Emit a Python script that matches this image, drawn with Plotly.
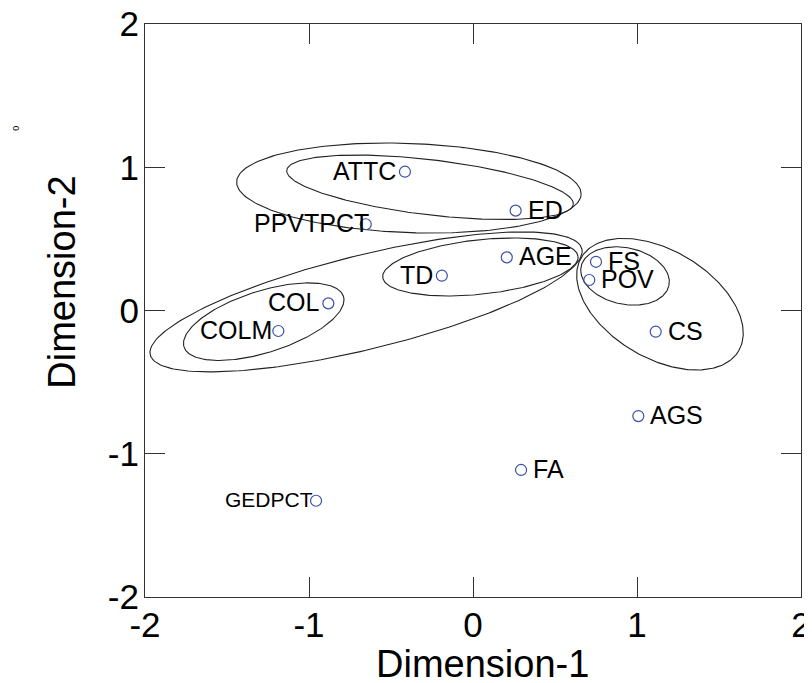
import numpy as np
import plotly.graph_objects as go

# ---- data ----
labels = ["ATTC", "ED", "PPVTPCT", "AGE", "TD", "FS", "POV", "CS",
          "COL", "COLM", "AGS", "FA", "GEDPCT"]
dim1 = [-0.415, 0.260, -0.654, 0.206, -0.190, 0.750, 0.709, 1.114,
        -0.882, -1.187, 1.008, 0.293, -0.957]
dim2 = [0.969, 0.697, 0.602, 0.371, 0.243, 0.340, 0.213, -0.148,
        0.050, -0.143, -0.737, -1.113, -1.328]
label_side = ["left", "right", "left", "right", "left", "right", "right", "right",
              "left", "left", "right", "right", "left"]

# cluster ellipses: centre (dim1, dim2), semi-axes (dim1 units), tilt (deg)
ell_cx = [-0.391, -0.262, 0.045, -0.652, -1.276, 0.927, 1.140]
ell_cy = [0.855, 0.860, 0.304, 0.060, -0.078, 0.241, 0.044]
ell_a = [1.051, 0.880, 0.599, 1.355, 0.510, 0.274, 0.558]
ell_b = [0.272, 0.168, 0.166, 0.287, 0.188, 0.172, 0.328]
ell_ang = [-2.1, -6.8, 6.1, 13.8, 17.6, -12.4, -30.8]

x_ticks = [-2, -1, 0, 1, 2]
y_ticks = [-2, -1, 0, 1, 2]

# ---- figure ----
W, H = 812, 683
PAGE_OFF = 8                      # default page body margin
PL, PT, PW, PH = 145, 24, 656, 573  # wanted plot box on screen
ML, MT = PL - PAGE_OFF, PT - PAGE_OFF
MR = W - ML - PW
MB = H - MT - PH
aspect = (PW / 4.0) / (PH / 4.0)  # px per x-unit / px per y-unit


def px(sx):
    return (sx - PL) / PW


def py(sy):
    return (PT + PH - sy) / PH


FONT = "Liberation Sans, Arial"
fig = go.Figure()

t = np.linspace(0, 2 * np.pi, 241)
for cx, cy, a, b, ang in zip(ell_cx, ell_cy, ell_a, ell_b, ell_ang):
    th = np.deg2rad(ang)
    du = a * np.cos(t) * np.cos(th) - b * np.sin(t) * np.sin(th)
    dv = a * np.cos(t) * np.sin(th) + b * np.sin(t) * np.cos(th)
    fig.add_trace(go.Scatter(x=cx + du, y=cy + dv * aspect, mode="lines",
                             line=dict(color="#222222", width=1.1),
                             hoverinfo="skip", showlegend=False))

fig.add_trace(go.Scatter(x=dim1, y=dim2, mode="markers",
                         marker=dict(symbol="circle-open", size=11,
                                     color="#3a4fa8", line=dict(width=1.2)),
                         text=labels, showlegend=False))

annotations = []
for name, x, y, side in zip(labels, dim1, dim2, label_side):
    size = 21 if name == "GEDPCT" else 25
    if side == "right":
        annotations.append(dict(x=x, y=y, xref="x", yref="y", text=name,
                                showarrow=False, xanchor="left", yanchor="middle",
                                xshift=10, yshift=1,
                                font=dict(size=size, color="black", family=FONT)))
    else:
        shift = {"ATTC": -7, "PPVTPCT": 5, "TD": -7, "COL": -6,
                 "COLM": -4, "GEDPCT": -1}.get(name, -7)
        annotations.append(dict(x=x, y=y, xref="x", yref="y", text=name,
                                showarrow=False, xanchor="right", yanchor="middle",
                                xshift=shift, yshift=1,
                                font=dict(size=size, color="black", family=FONT)))

# axis titles
annotations.append(dict(x=px(482.5), y=py(664), xref="paper", yref="paper",
                        text="Dimension-1", showarrow=False,
                        xanchor="center", yanchor="middle",
                        font=dict(size=38, color="black", family=FONT)))
annotations.append(dict(x=px(61.7), y=py(282), xref="paper", yref="paper",
                        text="Dimension-2", showarrow=False,
                        xanchor="center", yanchor="middle", textangle=-90,
                        font=dict(size=38, color="black", family=FONT)))
# tiny stray glyph at upper left
annotations.append(dict(x=px(16), y=py(128.7), xref="paper", yref="paper",
                        text="0", showarrow=False,
                        xanchor="center", yanchor="middle", textangle=-90,
                        font=dict(size=9, color="black", family=FONT)))

axis_common = dict(showgrid=False, zeroline=False, showline=True, automargin=False,
                   linecolor="#333333", linewidth=1.2, mirror="ticks",
                   ticks="inside", ticklen=20, tickwidth=1.2, tickcolor="#333333",
                   ticklabeloverflow="allow",
                   tickfont=dict(size=35, color="black", family=FONT))

fig.update_layout(
    width=W, height=H,
    margin=dict(l=ML, r=MR, t=MT, b=MB, autoexpand=False),
    paper_bgcolor="white", plot_bgcolor="white",
    xaxis=dict(range=[-2, 2], tickvals=x_ticks, ticktext=[str(v) for v in x_ticks],
               ticklabelstandoff=-3, **axis_common),
    yaxis=dict(range=[-2, 2], tickvals=y_ticks, ticktext=[str(v) for v in y_ticks],
               ticklabelstandoff=-2, **axis_common),
    annotations=annotations,
    showlegend=False,
)

fig.write_html("out.html")
